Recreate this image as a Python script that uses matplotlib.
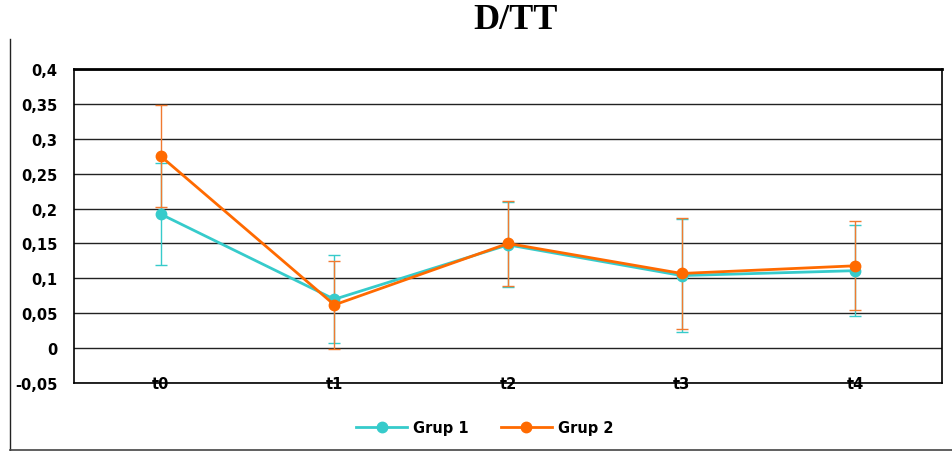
import matplotlib.pyplot as plt
from matplotlib.lines import Line2D
from matplotlib.ticker import FuncFormatter

# D/TT means per time point, with error bars
times = ["t0", "t1", "t2", "t3", "t4"]
grup1 = [0.192, 0.070, 0.148, 0.104, 0.111]
grup1_err = [0.073, 0.063, 0.061, 0.081, 0.065]
grup2 = [0.275, 0.062, 0.150, 0.107, 0.118]
grup2_err = [0.073, 0.063, 0.061, 0.080, 0.064]

yticks = [-0.05, 0, 0.05, 0.1, 0.15, 0.2, 0.25, 0.3, 0.35, 0.4]

c1 = "#36CBCB"
c2 = "#FF6A00"

fig = plt.figure(figsize=(9.52, 4.52), dpi=100)
ax = fig.add_axes([0.0777, 0.1504, 0.9118, 0.6947])

x = [i + 0.5 for i in range(len(times))]

ax.errorbar(x, grup1, yerr=grup1_err, fmt="none", ecolor=c1, elinewidth=1,
            capsize=4.5, capthick=1, zorder=3)
ax.errorbar(x, grup2, yerr=grup2_err, fmt="none", ecolor="#F07A30", elinewidth=1,
            capsize=4.5, capthick=1, zorder=3)
ax.plot(x, grup1, "-o", color=c1, lw=2, markersize=7.5, label="Grup 1", zorder=4)
ax.plot(x, grup2, "-o", color=c2, lw=2, markersize=7.5, label="Grup 2", zorder=5)

ax.set_xlim(0, len(times))
ax.set_ylim(-0.05, 0.4)
ax.set_yticks(yticks)
ax.yaxis.set_major_formatter(FuncFormatter(
    lambda v, p: ("%g" % round(v, 2)).replace(".", ",")))
ax.grid(axis="y", color="#222222", lw=1)
ax.set_axisbelow(True)
ax.tick_params(axis="y", length=0, pad=12, labelsize=10.5)
for lab in ax.get_yticklabels():
    lab.set_fontweight("bold")

# category labels sit on the bottom edge of the plot area
ax.set_xticks([])
for xi, t in zip(x, times):
    ax.text(xi, -0.05, t, ha="center", va="center", fontsize=10.5,
            fontweight="bold", zorder=6)

for side in ["left", "right", "bottom"]:
    ax.spines[side].set_color("black")
    ax.spines[side].set_linewidth(1.2)
ax.spines["top"].set_linewidth(2)

fig.text(0.541, 0.955, "D/TT", ha="center", va="center", fontsize=26,
         fontweight="bold", family="Liberation Serif")

ax.legend(loc="upper center", bbox_to_anchor=(0.473, -0.075), ncol=2,
          frameon=False, prop={"weight": "bold", "size": 10.5},
          handlelength=3.5, handletextpad=0.4, columnspacing=2.2)

# outer chart frame
fig.add_artist(Line2D([10 / 952, 10 / 952], [1 / 452, 412 / 452],
                      color="#222222", lw=1))
fig.add_artist(Line2D([10 / 952, 1], [1 / 452, 1 / 452],
                      color="#444444", lw=1.2))

fig.savefig("out.png")
